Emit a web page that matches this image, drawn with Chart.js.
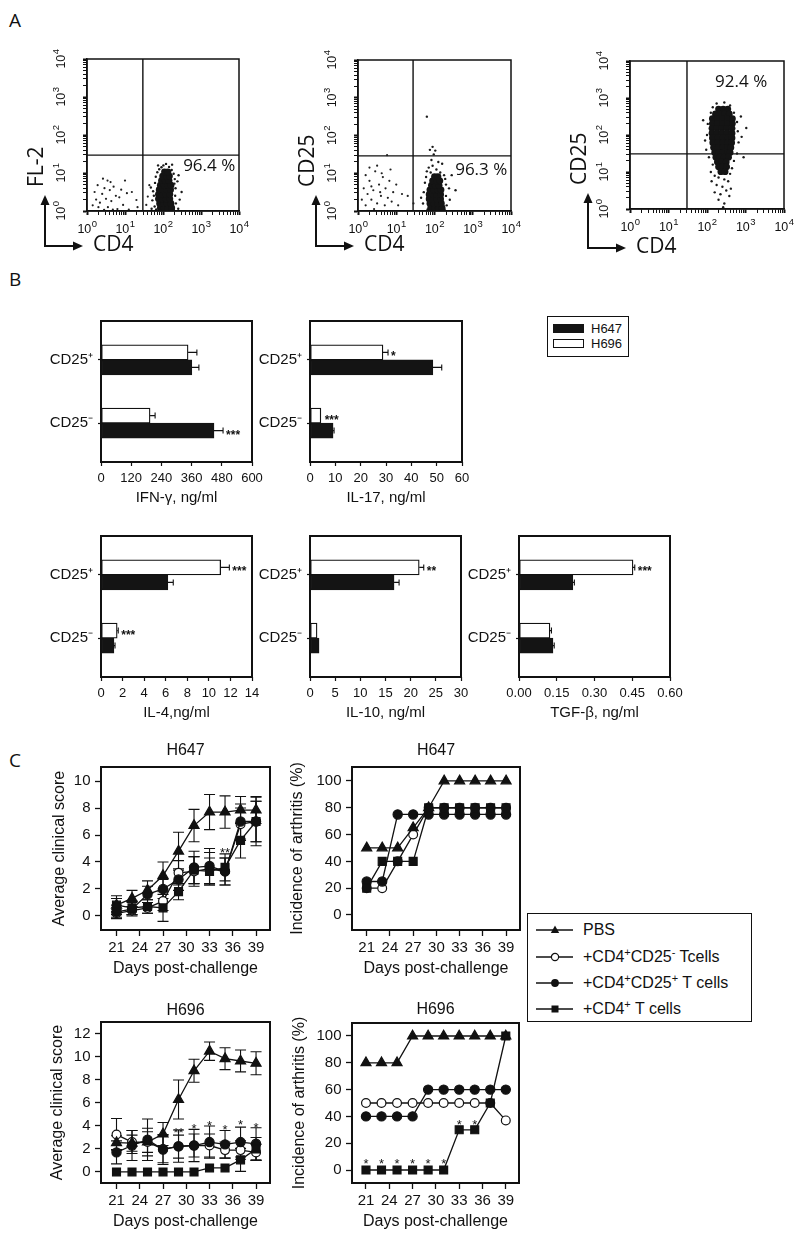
<!DOCTYPE html>
<html>
<head>
<meta charset="utf-8">
<title>Figure</title>
<script src="https://cdn.jsdelivr.net/npm/chart.js@4.4.1/dist/chart.umd.min.js"></script>
<style>
  html,body{margin:0;padding:0;background:#fff;}
  body{position:relative;width:800px;height:1237px;overflow:hidden;color:#111;font-family:"Liberation Sans",Arial,sans-serif;}
  .letter{position:absolute;font-family:"Open Sans",sans-serif;font-size:19px;line-height:22px;color:#111;}
  .legB{position:absolute;left:547px;top:316px;width:82px;height:41px;box-sizing:border-box;border:1.5px solid #111;font-size:13px;}
  .legB .sw{position:absolute;left:5px;width:31px;height:9px;box-sizing:border-box;}
  .legB .tx{position:absolute;left:43px;line-height:16px;}
  .legC{position:absolute;left:527px;top:913px;width:225px;height:109px;box-sizing:border-box;border:1.5px solid #111;font-size:16px;}
  .legC .row{position:absolute;left:0;width:220px;height:18px;}
  .legC svg{position:absolute;left:8px;top:2px;}
  .legC .tx{position:absolute;left:55px;top:0;line-height:18px;white-space:nowrap;}
  .legC sup{font-size:11px;vertical-align:6px;line-height:0;}
</style>
</head>
<body>
<div class="letter" style="left:9px;top:9px">A</div>
<div class="letter" style="left:9px;top:268px">B</div>
<div class="letter" style="left:9px;top:749px">C</div>

<div class="legB">
  <div class="sw" style="top:7px;background:#141414"></div><div class="tx" style="top:4px">H647</div>
  <div class="sw" style="top:22px;border:1px solid #111;background:#fff"></div><div class="tx" style="top:19px">H696</div>
</div>

<div class="legC">
  <div class="row" style="top:7px"><svg width="40" height="14"><line x1="0" y1="7" x2="37" y2="7" stroke="#111" stroke-width="1.3"/><polygon points="19,2.5 23.2,10 14.8,10" fill="#111"/></svg><div class="tx">PBS</div></div>
  <div class="row" style="top:34px"><svg width="40" height="14"><line x1="0" y1="7" x2="37" y2="7" stroke="#111" stroke-width="1.3"/><circle cx="19" cy="7" r="3.6" fill="#fff" stroke="#111" stroke-width="1.2"/></svg><div class="tx">+CD4<sup>+</sup>CD25<sup>-</sup> Tcells</div></div>
  <div class="row" style="top:60px"><svg width="40" height="14"><line x1="0" y1="7" x2="37" y2="7" stroke="#111" stroke-width="1.3"/><circle cx="19" cy="7" r="3.9" fill="#111"/></svg><div class="tx">+CD4<sup>+</sup>CD25<sup>+</sup> T cells</div></div>
  <div class="row" style="top:86px"><svg width="40" height="14"><line x1="0" y1="7" x2="37" y2="7" stroke="#111" stroke-width="1.3"/><rect x="15.5" y="3.5" width="7" height="7" fill="#111"/></svg><div class="tx">+CD4<sup>+</sup> T cells</div></div>
</div>

<script>
// ======================= DATA =======================
// ---- Panel A: flow cytometry events, in log10 decades (CD4, FL-2 / CD25) ----
const flowCore1 = [[1.93,0.08],[2.03,0.08],[2.13,0.08],[2.23,0.08],[1.91,0.2],[2.01,0.2],[2.11,0.2],[2.21,0.2],
  [1.88,0.32],[1.98,0.32],[2.08,0.32],[2.18,0.32],[1.88,0.44],[1.98,0.44],[2.08,0.44],[2.18,0.44],
  [1.9,0.56],[2.0,0.56],[2.1,0.56],[2.2,0.56],[1.93,0.68],[2.03,0.68],[2.13,0.68],[2.21,0.68],
  [1.96,0.8],[2.06,0.8],[2.16,0.8],[1.99,0.92],[2.09,0.92],[2.17,0.92],[2.04,1.03],[2.13,1.03]];
const flowFringe1 = [[1.72,0.28],[1.74,0.52],[1.78,0.12],[1.79,0.74],[1.76,0.4],[1.81,0.9],[1.85,1.02],[1.9,1.1],
  [1.96,1.15],[2.01,1.2],[2.08,1.24],[2.16,1.16],[2.23,1.08],[2.28,0.98],[2.31,0.84],[2.33,0.6],[2.32,0.4],
  [2.34,0.2],[2.4,0.06],[2.44,0.3],[2.3,0.72],[1.7,0.06],[1.82,0.04],[2.28,0.04],[2.41,0.94],[2.24,1.22],
  [1.87,1.2],[2.49,0.5],[1.68,0.62],[2.38,0.78]];
const flowScatter1 = [[0.2,0.5],[0.28,0.68],[0.34,0.22],[0.4,0.45],[0.46,0.6],[0.5,0.32],[0.54,0.8],[0.6,0.55],
  [0.64,0.26],[0.7,0.64],[0.76,0.4],[0.62,0.76],[0.85,0.36],[0.9,0.56],[1.0,0.8],[1.05,0.47],[0.3,0.1],
  [0.55,0.1],[0.24,0.3],[1.18,0.5],[1.3,0.29],[1.33,0.1],[0.95,0.16],[0.42,0.85],[0.68,0.04],[1.6,0.38],
  [1.64,0.68],[1.56,0.16],[0.15,0.15],[0.8,0.05],[1.1,0.04],[0.45,0.03]];

const flowCore2 = [[1.9,0.08],[2.0,0.08],[2.1,0.08],[2.2,0.08],[1.88,0.2],[1.98,0.2],[2.08,0.2],[2.18,0.2],
  [1.86,0.32],[1.96,0.32],[2.06,0.32],[2.16,0.32],[1.86,0.44],[1.96,0.44],[2.06,0.44],[2.16,0.44],
  [1.88,0.56],[1.98,0.56],[2.08,0.56],[2.17,0.56],[1.92,0.68],[2.02,0.68],[2.12,0.68],
  [1.95,0.8],[2.05,0.8],[2.14,0.8],[2.0,0.91],[2.09,0.91]];
const flowFringe2 = [[1.7,0.2],[1.72,0.5],[1.75,0.75],[1.78,0.9],[1.8,1.05],[1.85,1.15],[1.9,1.02],[1.95,1.2],
  [2.05,1.1],[2.15,1.02],[2.25,0.95],[2.3,0.7],[2.3,0.4],[2.32,0.15],[2.4,0.3],[2.45,0.95],[2.55,0.55],
  [1.92,1.35],[1.98,1.5],[1.88,1.62],[1.95,1.7],[2.02,1.6],[2.1,1.3],[2.2,1.25],[1.8,2.5],[2.28,0.85],
  [1.82,0.04],[2.26,0.04],[1.65,0.35],[2.38,0.6]];
const flowScatter2 = [[0.1,0.3],[0.15,0.6],[0.2,0.15],[0.25,0.45],[0.3,0.8],[0.35,0.3],[0.4,0.55],[0.45,1.05],
  [0.5,0.2],[0.55,0.7],[0.6,0.4],[0.65,0.9],[0.7,0.15],[0.72,0.6],[0.78,0.35],[0.82,0.8],[0.88,0.25],
  [0.92,0.5],[1.0,0.7],[1.05,0.15],[0.3,1.15],[0.5,1.2],[0.62,1.0],[0.76,1.48],[0.2,0.95],[0.42,0.05],
  [0.85,1.1],[1.15,0.45],[0.35,0.65],[0.58,0.5],[1.3,0.4],[1.45,0.2]];

const flowCore3 = [[2.3,2.7],[2.42,2.7],[2.54,2.7],[2.22,2.57],[2.34,2.57],[2.46,2.57],[2.58,2.57],
  [2.14,2.44],[2.27,2.44],[2.4,2.44],[2.53,2.44],[2.66,2.44],[2.14,2.31],[2.27,2.31],[2.4,2.31],[2.53,2.31],[2.66,2.31],
  [2.13,2.18],[2.26,2.18],[2.39,2.18],[2.52,2.18],[2.65,2.18],[2.13,2.05],[2.26,2.05],[2.39,2.05],[2.52,2.05],[2.65,2.05],
  [2.14,1.92],[2.27,1.92],[2.4,1.92],[2.53,1.92],[2.65,1.92],[2.15,1.79],[2.28,1.79],[2.41,1.79],[2.54,1.79],[2.64,1.79],
  [2.17,1.66],[2.29,1.66],[2.41,1.66],[2.53,1.66],[2.62,1.66],[2.2,1.53],[2.31,1.53],[2.42,1.53],[2.53,1.53],[2.6,1.53],
  [2.23,1.4],[2.34,1.4],[2.45,1.4],[2.56,1.4],[2.27,1.27],[2.38,1.27],[2.5,1.27],[2.3,1.14],[2.41,1.14],[2.51,1.14],
  [2.36,1.01],[2.47,1.01]];
const flowFringe3 = [[2.0,2.0],[1.95,1.85],[2.02,2.3],[1.98,1.6],[2.05,1.4],[2.1,2.6],[2.15,2.75],[2.25,2.85],
  [2.45,2.88],[2.6,2.8],[2.7,2.6],[2.78,2.35],[2.8,2.1],[2.82,1.8],[2.78,1.5],[2.7,1.3],[2.65,1.1],[2.6,0.95],
  [2.15,1.2],[2.1,1.0],[2.2,0.9],[2.3,0.85],[2.45,0.8],[2.55,0.75],[2.25,0.65],[2.4,0.6],[2.5,0.5],[2.35,0.4],
  [2.58,0.35],[2.3,0.25],[2.45,0.15],[2.42,0.05],[3.02,2.19],[2.9,1.95],[2.88,2.5],[1.9,2.4],[2.12,0.75],
  [2.62,0.55],[2.2,0.45],[2.95,1.4]];
const flowScatter3 = [];

const flowGates = [[1.47, 1.47], [1.44, 1.46], [1.48, 1.49]];
const flowPercentText = ['96.4 %', '96.3 %', '92.4 %'];
const flowPercentAt = [[2.53, 1.18], [2.54, 1.09], [2.21, 3.43]];
const flowYTitles = ['FL-2', 'CD25', 'CD25'];
const flowXTitle = 'CD4';
const flowDecades = ['0', '1', '2', '3', '4'];

// ---- Panel B: cytokines (H647 = black, H696 = white) ----
const cellGroups = ['CD25⁺', 'CD25⁻'];
const ifnH647 = [361, 449], ifnH647Err = [28, 36], ifnH647Stars = ['', '***'];
const ifnH696 = [346, 195], ifnH696Err = [35, 20], ifnH696Stars = ['', ''];
const il17H647 = [48.5, 9.1], il17H647Err = [3.5, 0.4], il17H647Stars = ['', ''];
const il17H696 = [28.8, 4.3], il17H696Err = [2.0, 0.3], il17H696Stars = ['*', '***'];
const il4H647 = [6.2, 1.2], il4H647Err = [0.5, 0.1], il4H647Stars = ['', ''];
const il4H696 = [11.1, 1.5], il4H696Err = [0.8, 0.1], il4H696Stars = ['***', '***'];
const il10H647 = [16.7, 1.8], il10H647Err = [1.0, 0.1], il10H647Stars = ['', ''];
const il10H696 = [21.7, 1.4], il10H696Err = [0.9, 0.05], il10H696Stars = ['**', ''];
const tgfH647 = [0.214, 0.135], tgfH647Err = [0.006, 0.005], tgfH647Stars = ['', ''];
const tgfH696 = [0.453, 0.123], tgfH696Err = [0.007, 0.006], tgfH696Stars = ['***', ''];

// ---- Panel C: arthritis time course ----
const days = [21, 23, 25, 27, 29, 31, 33, 35, 37, 39];
const dayTicks = [21, 24, 27, 30, 33, 36, 39];
const scoreTicks647 = [0, 2, 4, 6, 8, 10];
const scoreTicks696 = [0, 2, 4, 6, 8, 10, 12];
const incidenceTicks = [0, 20, 40, 60, 80, 100];
const groupLabels = ['PBS', '+CD4⁺ T cells', '+CD4⁺CD25⁺ T cells', '+CD4⁺CD25⁻ Tcells'];

const pbs647Score = [0.8, 1.3, 1.9, 3.0, 4.8, 6.7, 7.7, 7.7, 7.85, 7.85];
const pbs647ScoreErr = [0.7, 0.6, 0.7, 1.0, 1.4, 1.2, 1.3, 1.2, 1.0, 1.0];
const cd4647Score = [0.8, 0.6, 0.7, 0.6, 1.8, 3.4, 3.3, 3.6, 5.6, 7.0];
const cd4647ScoreErr = [0.5, 0.5, 0.5, 1.0, 0.6, 1.0, 1.0, 1.0, 1.3, 1.8];
const pos647Score = [0.3, 0.5, 1.6, 2.0, 2.7, 3.6, 3.7, 3.3, 7.0, 7.0];
const pos647ScoreErr = [0.5, 0.5, 0.6, 0.7, 0.8, 1.2, 1.3, 1.0, 1.3, 1.5];
const neg647Score = [0.2, 0.4, 0.6, 1.1, 3.2, 3.3, 3.5, 3.3, 6.8, 7.0];
const neg647ScoreErr = [0.3, 0.3, 0.4, 0.7, 0.9, 1.1, 1.2, 1.0, 1.2, 1.5];
const score647StarDays = [35], score647StarText = ['**'], score647StarY = [4.9];

const pbs647Inc = [50, 50, 50, 65, 80, 100, 100, 100, 100, 100];
const cd4647Inc = [20, 40, 40, 40, 80, 80, 80, 80, 80, 80];
const pos647Inc = [25, 25, 75, 75, 75, 75, 75, 75, 75, 75];
const neg647Inc = [20, 20, 40, 60, 80, 80, 80, 80, 80, 80];

const pbs696Score = [2.55, 2.5, 2.6, 3.3, 6.3, 8.8, 10.5, 9.85, 9.65, 9.45];
const pbs696ScoreErr = [0.6, 0.7, 0.9, 1.0, 1.7, 1.0, 0.8, 0.95, 0.95, 1.0];
const cd4696Score = [0, 0, 0, 0, 0, 0, 0.35, 0.35, 1.05, 2.0];
const cd4696ScoreErr = [0, 0, 0, 0, 0, 0, 0, 0, 1.0, 1.0];
const pos696Score = [1.7, 2.3, 2.8, 1.95, 2.25, 2.3, 2.6, 2.4, 2.6, 2.45];
const pos696ScoreErr = [1.0, 1.3, 1.8, 1.3, 1.4, 1.4, 1.4, 1.2, 1.3, 1.4];
const neg696Score = [3.25, 2.6, 2.6, 2.0, 2.2, 2.3, 2.3, 1.9, 1.9, 1.7];
const neg696ScoreErr = [1.4, 1.0, 1.2, 1.2, 1.0, 1.0, 1.0, 0.7, 0.8, 0.7];
const score696StarDays = [29, 31, 33, 35, 37, 39];
const score696StarText = ['**', '*', '*', '*', '*', '*'];
const score696StarY = [3.7, 4.05, 4.3, 3.95, 4.4, 4.1];

const pbs696Inc = [80, 80, 80, 100, 100, 100, 100, 100, 100, 100];
const cd4696Inc = [0, 0, 0, 0, 0, 0, 30, 30, 50, 100];
const pos696Inc = [40, 40, 40, 40, 60, 60, 60, 60, 60, 60];
const neg696Inc = [50, 50, 50, 50, 50, 50, 50, 50, 50, 37];
const inc696StarDays = [21, 23, 25, 27, 29, 31, 33, 35];
const inc696StarText = ['*', '*', '*', '*', '*', '*', '*', '*'];
const inc696StarY = [7, 7, 7, 7, 7, 7, 36, 36];

// ======================= RENDERING =======================
const SANS = '"Liberation Sans", Arial, sans-serif';
const OPEN = '"Open Sans", sans-serif';
const INK = '#111';
Chart.defaults.font.family = SANS;
Chart.defaults.color = INK;

function mount(box, pad, config) {
  const W = box.w + pad.l + pad.r, H = box.h + pad.t + pad.b;
  const cv = document.createElement('canvas');
  cv.width = W; cv.height = H;
  cv.style.cssText = `position:absolute;left:${box.l - pad.l}px;top:${box.t - pad.t}px;width:${W}px;height:${H}px;`;
  document.body.appendChild(cv);
  const o = config.options;
  Object.assign(o, {responsive: false, maintainAspectRatio: false, animation: false, devicePixelRatio: 1, events: []});
  o.layout = {padding: {left: 0, top: pad.t, right: pad.r, bottom: 0}};
  o.scales.x.afterFit = s => { s.height = pad.b; };
  o.scales.y.afterFit = s => { s.width = pad.l; };
  o.plugins = Object.assign({legend: {display: false}, tooltip: {enabled: false}, title: {display: false}}, o.plugins || {});
  return new Chart(cv, config);
}

// ---------- Panel A ----------
const LOG_TICKS = [];
for (let d = 0; d < 4; d++) for (let k = 1; k < 10; k++) LOG_TICKS.push(d + Math.log10(k));
LOG_TICKS.push(4);

function flowAxis() {
  return {
    type: 'linear', min: 0, max: 4, offset: false,
    afterBuildTicks: s => { s.ticks = LOG_TICKS.map(v => ({value: v})); },
    ticks: {display: false},
    grid: {display: true, drawOnChartArea: false, drawTicks: true, tickLength: 4, color: INK,
      tickWidth: c => (c.tick && Math.abs(c.tick.value - Math.round(c.tick.value)) < 1e-6) ? 2 : 1},
    border: {display: true, color: INK, width: 1.5}
  };
}

function flowChart(box, idx, core, fringe, scatter, arrowY) {
  const toXY = a => a.map(p => ({x: p[0], y: p[1]}));
  const gate = flowGates[idx], pctAt = flowPercentAt[idx];
  const deco = {
    id: 'flowDeco',
    beforeDatasetsDraw(chart) {
      const {ctx, chartArea: a, scales: {x, y}} = chart;
      const gx = x.getPixelForValue(gate[0]), gy = y.getPixelForValue(gate[1]);
      ctx.save(); ctx.strokeStyle = INK; ctx.lineWidth = 1.4;
      ctx.beginPath(); ctx.moveTo(gx, a.top); ctx.lineTo(gx, a.bottom);
      ctx.moveTo(a.left, gy); ctx.lineTo(a.right, gy); ctx.stroke();
      ctx.restore();
    },
    afterDraw(chart) {
      const {ctx, chartArea: a, scales: {x, y}} = chart;
      ctx.save();
      ctx.strokeStyle = INK; ctx.fillStyle = INK; ctx.lineWidth = 1.5;
      ctx.strokeRect(a.left, a.top, a.right - a.left, a.bottom - a.top);
      ctx.font = '17px ' + OPEN; ctx.textAlign = 'left'; ctx.textBaseline = 'middle';
      ctx.fillText(flowPercentText[idx], x.getPixelForValue(pctAt[0]), y.getPixelForValue(pctAt[1]));
      const lbl = (cx, cy, e) => {
        ctx.font = '12.5px ' + SANS; const w1 = ctx.measureText('10').width;
        ctx.font = '9.5px ' + SANS; const w2 = ctx.measureText(e).width;
        const s = cx - (w1 + w2) / 2;
        ctx.textAlign = 'left'; ctx.textBaseline = 'middle';
        ctx.font = '12.5px ' + SANS; ctx.fillText('10', s, cy);
        ctx.font = '9.5px ' + SANS; ctx.fillText(e, s + w1 + 0.5, cy - 6);
      };
      flowDecades.forEach((e, i) => {
        lbl(x.getPixelForValue(i), a.bottom + 19, e);
        ctx.save(); ctx.translate(a.left - 25, y.getPixelForValue(i)); ctx.rotate(-Math.PI / 2); lbl(0, 0, e); ctx.restore();
      });
      // axis titles + arrows
      ctx.font = '21px ' + OPEN; ctx.textBaseline = 'middle'; ctx.textAlign = 'left';
      ctx.save(); ctx.translate(a.left - 50, a.bottom - 24); ctx.rotate(-Math.PI / 2);
      ctx.fillText(flowYTitles[idx], 0, 0); ctx.restore();
      const cx = a.left - 42, cy = a.bottom + arrowY;
      ctx.fillText(flowXTitle, a.left + 6, cy - 1);
      const tipY = a.bottom - 16, tipX = a.left - 4;
      ctx.lineWidth = 2;
      ctx.beginPath(); ctx.moveTo(cx, cy + 1); ctx.lineTo(cx, tipY + 7); ctx.moveTo(cx - 1, cy); ctx.lineTo(tipX - 7, cy); ctx.stroke();
      ctx.beginPath(); ctx.moveTo(cx, tipY); ctx.lineTo(cx - 4.5, tipY + 10); ctx.lineTo(cx + 4.5, tipY + 10); ctx.closePath(); ctx.fill();
      ctx.beginPath(); ctx.moveTo(tipX, cy); ctx.lineTo(tipX - 10, cy - 4.5); ctx.lineTo(tipX - 10, cy + 4.5); ctx.closePath(); ctx.fill();
      ctx.restore();
    }
  };
  return mount(box, {l: 80, r: 20, t: 20, b: 55}, {
    type: 'scatter',
    data: {datasets: [
      {data: toXY(core), pointRadius: 3.4, backgroundColor: '#141414', borderWidth: 0},
      {data: toXY(fringe), pointRadius: 1.2, backgroundColor: '#1a1a1a', borderWidth: 0},
      {data: toXY(scatter), pointRadius: 1.1, backgroundColor: '#222', borderWidth: 0}
    ]},
    options: {scales: {x: flowAxis(), y: flowAxis()}},
    plugins: [deco]
  });
}

flowChart({l: 87, t: 59, w: 152, h: 152}, 0, flowCore1, flowFringe1, flowScatter1, 35);
flowChart({l: 358, t: 60, w: 153, h: 151}, 1, flowCore2, flowFringe2, flowScatter2, 35);
flowChart({l: 630, t: 61, w: 154, h: 148}, 2, flowCore3, flowFringe3, flowScatter3, 39);

// ---------- Panel B ----------
const CAT_POS = [0.615, 1.615];
const PAD_B = {l: 75, r: 28, t: 10, b: 55};
const barDeco = {
  id: 'barDeco',
  afterDatasetsDraw(chart) {
    const {ctx, scales: {x}} = chart;
    ctx.save(); ctx.strokeStyle = INK; ctx.fillStyle = INK; ctx.lineWidth = 1.1;
    chart.data.datasets.forEach((ds, di) => {
      const meta = chart.getDatasetMeta(di);
      meta.data.forEach((bar, j) => {
        const v = ds.data[j].x, e = ds.errors[j];
        const x1 = x.getPixelForValue(v + e);
        if (x1 - bar.x > 0.8) {
          ctx.beginPath(); ctx.moveTo(bar.x, bar.y); ctx.lineTo(x1, bar.y);
          ctx.moveTo(x1, bar.y - 3); ctx.lineTo(x1, bar.y + 3); ctx.stroke();
        }
        if (ds.stars[j]) {
          ctx.font = 'bold 12px ' + SANS; ctx.textAlign = 'left'; ctx.textBaseline = 'alphabetic';
          ctx.fillText(ds.stars[j], Math.max(x1, bar.x) + 3, bar.y + 8);
        }
      });
    });
    ctx.restore();
  },
  afterDraw(chart) {
    const {ctx, chartArea: a} = chart;
    ctx.save(); ctx.strokeStyle = INK; ctx.lineWidth = 2;
    ctx.strokeRect(a.left, a.top, a.right - a.left, a.bottom - a.top);
    ctx.restore();
  }
};

function barChart(box, h647, h647e, h647s, h696, h696e, h696s, xMax, step, title, decimals) {
  const mk = vals => vals.map((v, i) => ({x: v, y: CAT_POS[i]}));
  return mount(box, PAD_B, {
    type: 'bar',
    data: {datasets: [
      {label: 'H696', data: mk(h696), errors: h696e, stars: h696s, backgroundColor: '#fff', borderColor: INK,
        borderWidth: 1.3, borderSkipped: false, barThickness: 15},
      {label: 'H647', data: mk(h647), errors: h647e, stars: h647s, backgroundColor: '#141414', borderColor: '#141414',
        borderWidth: 1, borderSkipped: false, barThickness: 15}
    ]},
    options: {
      indexAxis: 'y',
      scales: {
        x: {type: 'linear', min: 0, max: xMax, offset: false,
          ticks: {stepSize: step, padding: 5, autoSkip: false, maxRotation: 0, font: {size: 13},
            callback: v => decimals ? Number(v).toFixed(decimals) : String(v)},
          grid: {display: true, offset: false, drawOnChartArea: false, drawTicks: true, tickLength: 4, color: INK, tickWidth: 1.2},
          border: {display: false},
          title: {display: true, text: title, font: {size: 15}, color: INK, padding: {top: 0, bottom: 10}}},
        y: {type: 'linear', reverse: true, min: 0, max: 2.23, offset: false,
          afterBuildTicks: s => { s.ticks = CAT_POS.map(v => ({value: v})); },
          ticks: {font: {size: 15}, padding: 5, callback: (v, i) => cellGroups[i]},
          grid: {display: true, offset: false, drawOnChartArea: false, drawTicks: true, tickLength: 3, color: INK, tickWidth: 1.2},
          border: {display: false}}
      }
    },
    plugins: [barDeco]
  });
}

barChart({l: 101, t: 317, w: 151, h: 145}, ifnH647, ifnH647Err, ifnH647Stars, ifnH696, ifnH696Err, ifnH696Stars, 600, 120, 'IFN-γ, ng/ml', 0);
barChart({l: 310, t: 317, w: 152, h: 145}, il17H647, il17H647Err, il17H647Stars, il17H696, il17H696Err, il17H696Stars, 60, 10, 'IL-17, ng/ml', 0);
barChart({l: 101, t: 532, w: 151, h: 145}, il4H647, il4H647Err, il4H647Stars, il4H696, il4H696Err, il4H696Stars, 14, 2, 'IL-4,ng/ml', 0);
barChart({l: 310, t: 532, w: 151, h: 145}, il10H647, il10H647Err, il10H647Stars, il10H696, il10H696Err, il10H696Stars, 30, 5, 'IL-10, ng/ml', 0);
barChart({l: 519, t: 532, w: 151, h: 145}, tgfH647, tgfH647Err, tgfH647Stars, tgfH696, tgfH696Err, tgfH696Stars, 0.6, 0.15, 'TGF-β, ng/ml', 2);

// ---------- Panel C ----------
const PAD_C = {l: 80, r: 22, t: 30, b: 50};
const POINT_STYLES = [
  {pointStyle: 'triangle', pointRadius: 5.8, pointBackgroundColor: '#111'},
  {pointStyle: 'rect', pointRadius: 5.6, pointBackgroundColor: '#111'},
  {pointStyle: 'circle', pointRadius: 4.6, pointBackgroundColor: '#111'},
  {pointStyle: 'circle', pointRadius: 4.4, pointBackgroundColor: '#fff'}
];

function lineChart(box, xr, yr, yTicks, vals, errs, stars, heading, headOff, yTitle, yTitleOff) {
  const datasets = vals.map((v, k) => Object.assign({
    label: groupLabels[k],
    data: days.map((d, i) => ({x: d, y: v[i]})),
    showLine: true, borderColor: INK, borderWidth: 1.3, tension: 0, fill: false,
    pointBorderColor: INK, pointBorderWidth: 1.2, clip: false
  }, POINT_STYLES[k]));
  const deco = {
    id: 'lineDeco',
    beforeDatasetsDraw(chart) {
      if (!errs) return;
      const {ctx, scales: {x, y}} = chart;
      ctx.save(); ctx.strokeStyle = INK; ctx.lineWidth = 1.1;
      errs.forEach((e, k) => e.forEach((ev, i) => {
        if (!ev) return;
        const px = x.getPixelForValue(days[i]);
        const y1 = y.getPixelForValue(vals[k][i] - ev), y2 = y.getPixelForValue(vals[k][i] + ev);
        ctx.beginPath(); ctx.moveTo(px, y1); ctx.lineTo(px, y2);
        ctx.moveTo(px - 5.5, y1); ctx.lineTo(px + 5.5, y1);
        ctx.moveTo(px - 5.5, y2); ctx.lineTo(px + 5.5, y2); ctx.stroke();
      }));
      ctx.restore();
    },
    afterDraw(chart) {
      const {ctx, chartArea: a, scales: {x, y}} = chart;
      ctx.save(); ctx.fillStyle = INK; ctx.strokeStyle = INK;
      if (stars) {
        ctx.font = '13px ' + SANS; ctx.textAlign = 'center'; ctx.textBaseline = 'alphabetic';
        stars.days.forEach((d, i) => ctx.fillText(stars.text[i], x.getPixelForValue(d), y.getPixelForValue(stars.y[i]) + 7.5));
      }
      ctx.lineWidth = 2;
      ctx.strokeRect(a.left, a.top, a.right - a.left, a.bottom - a.top);
      ctx.font = '16px ' + SANS; ctx.textAlign = 'center'; ctx.textBaseline = 'middle';
      ctx.fillText(heading, (a.left + a.right) / 2, a.top - headOff);
      ctx.restore();
    }
  };
  return mount(box, PAD_C, {
    type: 'scatter',
    data: {datasets},
    options: {
      scales: {
        x: {type: 'linear', min: xr[0], max: xr[1], offset: false,
          afterBuildTicks: s => { s.ticks = dayTicks.map(v => ({value: v})); },
          ticks: {font: {size: 15}, padding: 3, autoSkip: false, maxRotation: 0},
          grid: {display: true, drawOnChartArea: false, drawTicks: true, tickLength: 6, color: INK, tickWidth: 1.3},
          border: {display: false},
          title: {display: true, text: 'Days post-challenge', font: {size: 16}, color: INK, padding: {top: 0, bottom: 1.4}}},
        y: {type: 'linear', min: yr[0], max: yr[1], offset: false,
          afterBuildTicks: s => { s.ticks = yTicks.map(v => ({value: v})); },
          ticks: {font: {size: 15}, padding: 4.5},
          grid: {display: true, drawOnChartArea: false, drawTicks: true, tickLength: 6, color: INK, tickWidth: 1.3},
          border: {display: false},
          title: {display: true, text: yTitle, font: {size: 16}, color: INK, padding: {top: PAD_C.l - yTitleOff - 9.6, bottom: 0}}}
      }
    },
    plugins: [deco]
  });
}

lineChart({l: 101, t: 767, w: 169, h: 163}, [19.0, 40.8], [-1.04, 11.04], scoreTicks647,
  [pbs647Score, cd4647Score, pos647Score, neg647Score],
  [pbs647ScoreErr, cd4647ScoreErr, pos647ScoreErr, neg647ScoreErr],
  {days: score647StarDays, text: score647StarText, y: score647StarY}, 'H647', 16, 'Average clinical score', 41);
lineChart({l: 352, t: 767, w: 168, h: 163}, [19.1, 40.8], [-11.2, 110.4], incidenceTicks,
  [pbs647Inc, cd4647Inc, pos647Inc, neg647Inc], null, null, 'H647', 16, 'Incidence of arthritis (%)', 54);
lineChart({l: 101, t: 1022, w: 169, h: 161}, [19.0, 40.8], [-0.96, 13.04], scoreTicks696,
  [pbs696Score, cd4696Score, pos696Score, neg696Score],
  [pbs696ScoreErr, cd4696ScoreErr, pos696ScoreErr, neg696ScoreErr],
  {days: score696StarDays, text: score696StarText, y: score696StarY}, 'H696', 11, 'Average clinical score', 43);
lineChart({l: 352, t: 1023, w: 167, h: 160}, [19.2, 40.7], [-9.7, 109.7], incidenceTicks,
  [pbs696Inc, cd4696Inc, pos696Inc, neg696Inc], null,
  {days: inc696StarDays, text: inc696StarText, y: inc696StarY}, 'H696', 13, 'Incidence of arthritis (%)', 52);
</script>
</body>
</html>
